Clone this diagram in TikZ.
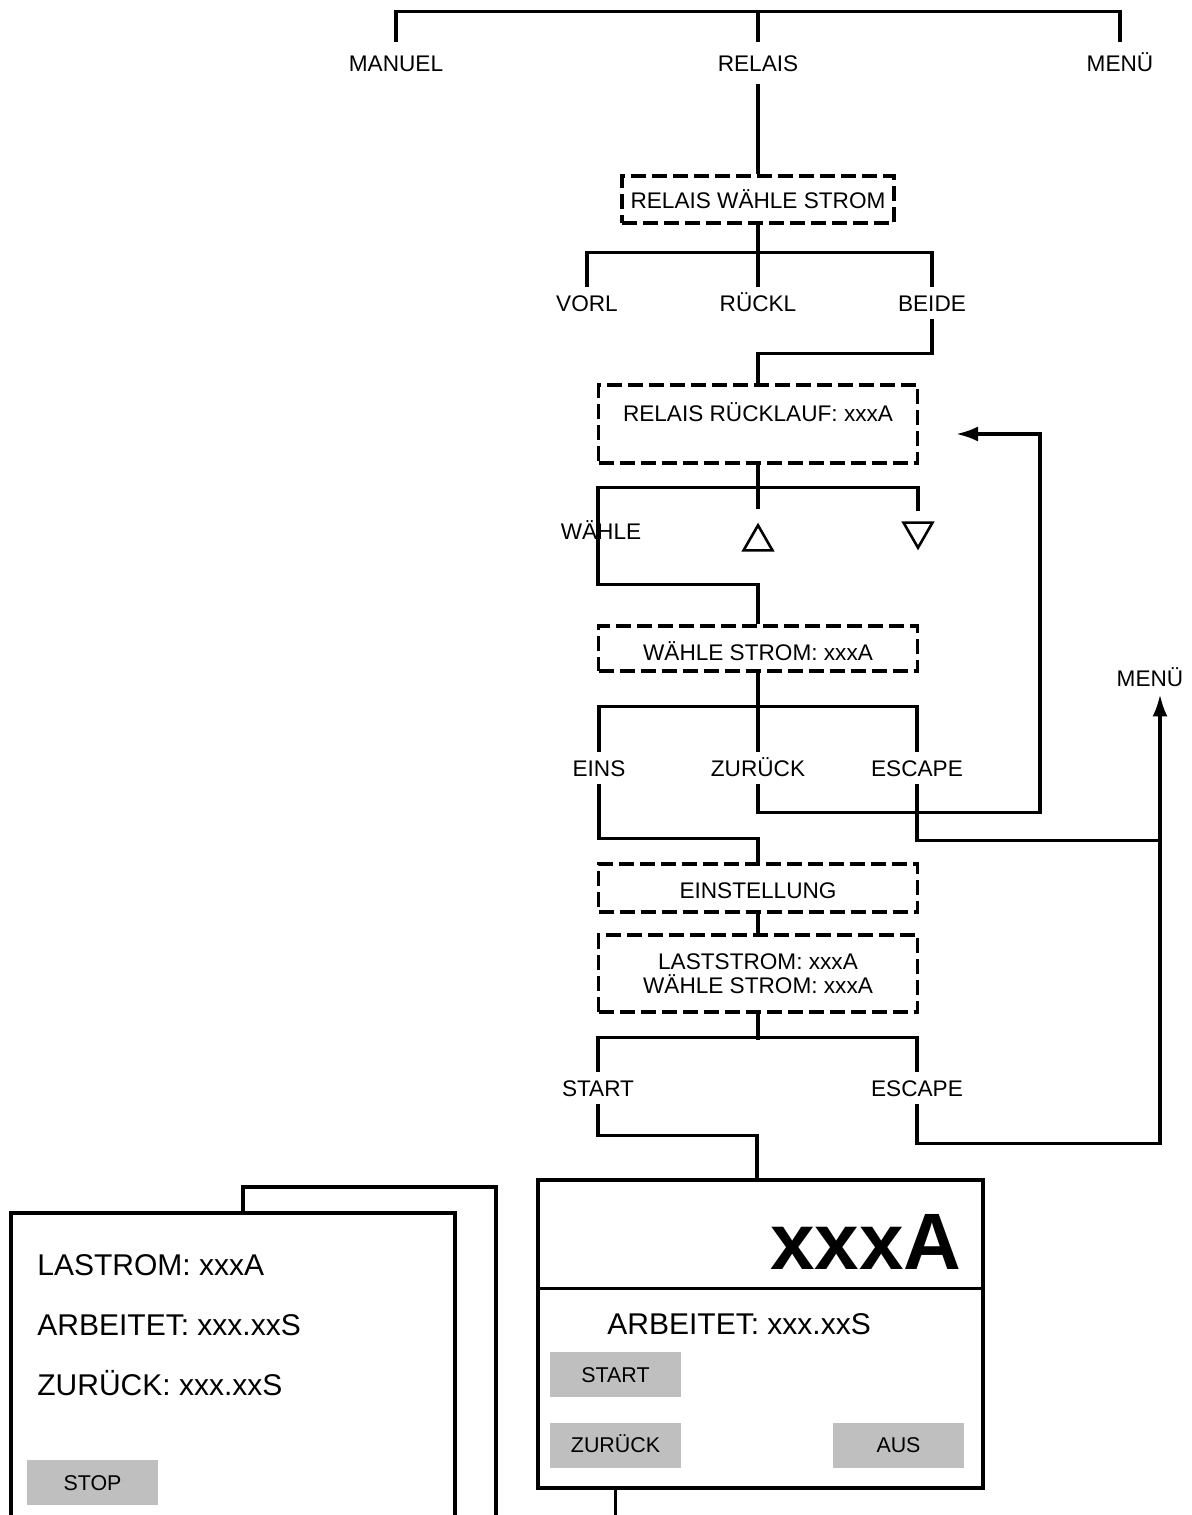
\documentclass[tikz,border=0pt]{standalone}
\usepackage{fontspec}
\setmainfont{Liberation Sans}
\usetikzlibrary{shapes.geometric,arrows.meta}
\definecolor{btngray}{RGB}{191,191,191}
\tikzset{
  conn/.style={line width=1.7pt},
  frame/.style={line width=1.7pt},
  backtip/.style={-{Latex[length=11pt,width=7.5pt]}},
  lbl/.style={font=\fontsize{11.3pt}{12pt}\selectfont, text height=8pt, text depth=0pt, inner xsep=0pt, inner ysep=4pt},
  dbox/.style={draw, dash pattern=on 7.5pt off 3pt, line width=1.7pt, minimum width=159.5pt, font=\fontsize{11.3pt}{12pt}\selectfont},
  tri/.style={draw, regular polygon, regular polygon sides=3, minimum size=16.7pt, inner sep=0pt, line width=1.3pt},
  btn/.style={fill=btngray, minimum width=65.5pt, minimum height=22.5pt, text height=7.6pt, text depth=0pt, font=\fontsize{10.7pt}{12pt}\selectfont},
  bigtxt/.style={font=\fontsize{15pt}{18pt}\selectfont, text height=10.7pt, text depth=0pt, anchor=west, inner sep=0pt}
}
\begin{document}
\begin{tikzpicture}[x=0.5pt,y=-0.5pt]
        \useasboundingbox (0,0) rectangle (1191,1515);

        % main menu
        \node[lbl,inner ysep=6.5pt] (manuel) at (396,63)  {MANUEL};
        \node[lbl,inner ysep=6.5pt] (relais) at (758,63)  {RELAIS};
        \node[lbl,inner ysep=6.5pt] (menu)   at (1120,63) {MENÜ};
        \draw[conn] (manuel.north) -- ++(0,-30) -| (menu.north);
        \draw[conn] (relais.north) -- ++(0,-30);

        \node[dbox,minimum width=136pt,minimum height=23.5pt,text height=9.5pt] (rws) at (758,199.5) {RELAIS WÄHLE STROM};
        \draw[conn] (relais.south) -- (rws.north);

        \node[lbl] (vorl)  at (587,303) {VORL};
        \node[lbl] (ruckl) at (758,303) {RÜCKL};
        \node[lbl] (beide) at (932,303) {BEIDE};
        \draw[conn] (rws.south) -- (ruckl.north);
        \draw[conn] (vorl.north) -- ++(0,-34) -| (beide.north);

        \node[dbox,minimum height=39pt,text height=8pt,text depth=11pt] (rlauf) at (758,424) {RELAIS RÜCKLAUF: xxxA};
        \draw[conn] (beide.south) -- ++(0,34) -| (rlauf.north);

        % up / down keys
        \node[tri] (up) at (758,542) {};
        \node[tri,shape border rotate=180] (down) at (918,531) {};
        \node[lbl] (wahle) at (601,531) {WÄHLE};
        \node[dbox,minimum height=22.5pt,text height=12.5pt] (wstrom) at (758,648.5) {WÄHLE STROM: xxxA};
        \draw[conn] (rlauf.south) -- ([yshift=7pt]up.north);
        \draw[conn] (rlauf.south) ++(0,23) -| ([yshift=5pt]down.north);
        \draw[conn] (rlauf.south) ++(0,23) -| ++(-160,97) -| (wstrom.north);

        \node[lbl] (eins) at (599,768) {EINS};
        \node[lbl] (zur)  at (758,768) {ZURÜCK};
        \node[lbl] (esca) at (917,768) {ESCAPE};
        \draw[conn] (wstrom.south) -- (zur.north);
        \draw[conn] (eins.north) -- ++(0,-45) -| (esca.north);

        \coordinate (rucktip) at (956,434);
        \draw[conn,backtip] (zur.south) -- ++(0,28) -- ++(282,0) |- (rucktip);

        \node[lbl] (menu2) at (1150,678) {MENÜ};
        \coordinate (menutip) at ([xshift=5pt]menu2.south);
        \draw[conn] (esca.south) -- ++(0,56) coordinate (esc1j) -- (esc1j -| menutip);

        \node[dbox,minimum height=24pt,text height=11pt] (einst) at (758,888) {EINSTELLUNG};
        \draw[conn] (eins.south) -- ++(0,54) -| (einst.north);
        \node[dbox,minimum height=38.5pt,align=center] (last) at (758,973.5) {LASTSTROM: xxxA\\WÄHLE STROM: xxxA};
        \draw[conn] (einst.south) -- (last.north);

        \node[lbl] (start) at (598,1088) {START};
        \node[lbl] (escb)  at (917,1088) {ESCAPE};
        \draw[conn] (last.south) -- ++(0,26);
        \draw[conn] (start.north) -- ++(0,-34) -| (escb.north);
        \draw[conn,backtip] (escb.south) -- ++(0,39) -| (menutip);

        % running display
        \node[draw,line width=1.7pt,minimum width=222.5pt,minimum height=154pt] (disp) at (760.5,1334) {};
        \draw[conn] (start.south) -- ++(0,31) -| ([xshift=-1.75pt]disp.north);
        \draw[frame] ([yshift=-55pt]disp.north west) -- ([yshift=-55pt]disp.north east);
        \node[anchor=east,inner sep=0pt,font=\bfseries\fontsize{40pt}{44pt}\selectfont] (amps) at (962,1242) {xxxA};
        \node[bigtxt] (arbd) at (607,1324) {ARBEITET: xxx.xxS};
        \node[btn] (startb) at (615.5,1374.5) {START};
        \node[btn] (zurb)   at (615.5,1445)   {ZURÜCK};
        \node[btn] (ausb)   at (898.5,1445)   {AUS};
        \coordinate (dispout) at (615.5,1515);
        \draw[conn] (zurb |- disp.south) -- (dispout);

        % result screens
        \draw[frame] (243,1515) |- (496,1187) -- (496,1515);
        \filldraw[frame,fill=white] (11,1515) |- (455,1213) -- (455,1515);
        \node[bigtxt] (lastr) at (37,1265) {LASTROM: xxxA};
        \node[bigtxt] (arbl)  at (37,1325) {ARBEITET: xxx.xxS};
        \node[bigtxt] (zurl)  at (37,1385) {ZURÜCK: xxx.xxS};
        \node[btn] (stopb) at (92.5,1482.5) {STOP};
      \end{tikzpicture}
\end{document}
